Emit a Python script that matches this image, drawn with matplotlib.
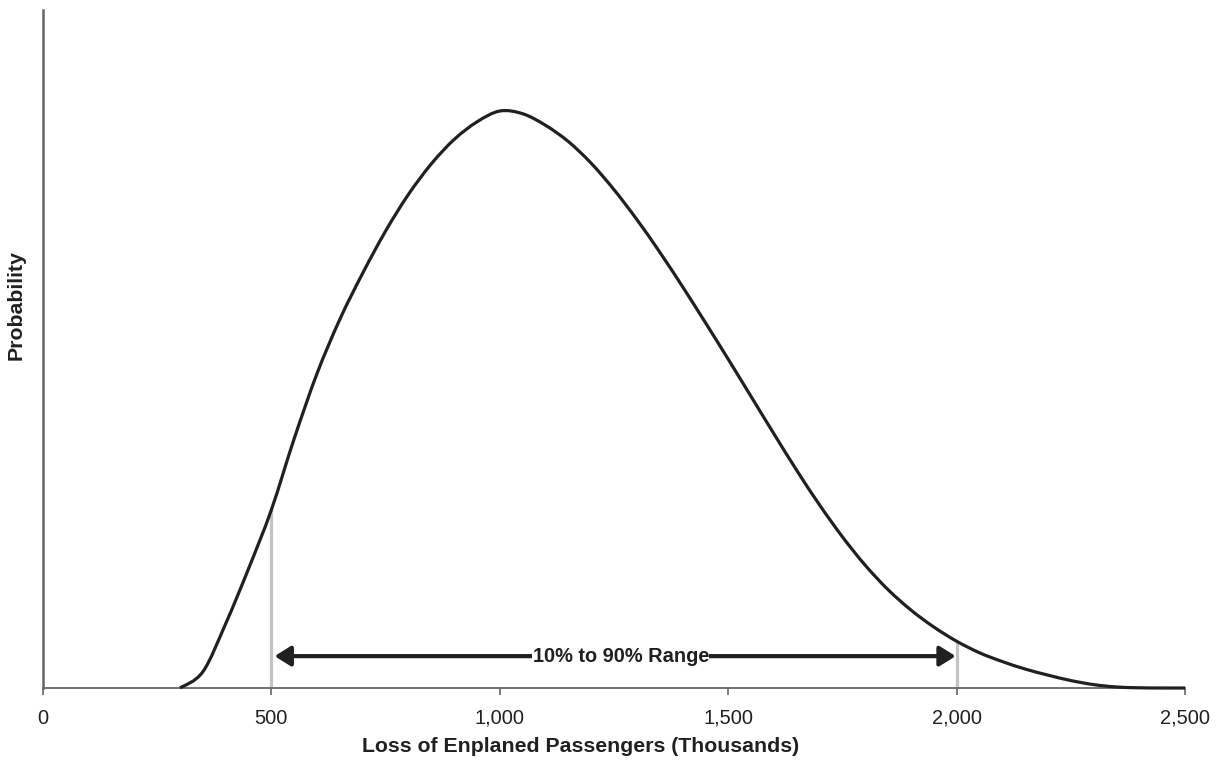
import matplotlib
matplotlib.use("Agg")
import matplotlib.pyplot as plt
import numpy as np
from matplotlib.path import Path
from matplotlib.patches import PathPatch

plt.rcParams['font.family'] = ['Liberation Sans', 'DejaVu Sans']

loss_thousands = [300, 350, 400, 450, 500, 550, 600, 650, 700, 750, 800, 850, 900, 950,
                  1000, 1050, 1100, 1150, 1200, 1250, 1300, 1350, 1400, 1450, 1500,
                  1550, 1600, 1650, 1700, 1750, 1800, 1850, 1900, 1950, 2000, 2050,
                  2100, 2150, 2200, 2250, 2300, 2350, 2400, 2450, 2500]
probability = [0, 2.4, 9.5, 17.6, 26.3, 36.8, 46.4, 54.4, 61.2, 67.4, 72.8, 77.3, 80.9, 83.5,
               85.1, 84.7, 83.0, 80.6, 77.4, 73.5, 69.1, 64.3, 59.2, 53.9, 48.5,
               43.0, 37.5, 32.1, 27.0, 22.3, 18.1, 14.5, 11.5, 9.0, 6.9, 5.2,
               3.9, 2.8, 1.9, 1.1, 0.5, 0.15, 0.03, 0, 0]

p10_x, p10_y = 500, 26.3
p90_x, p90_y = 2000, 6.7
range_label = "10% to 90% Range"
arrow_y = 4.7

x_ticks = [0, 500, 1000, 1500, 2000, 2500]
x_ticklabels = ["0", "500", "1,000", "1,500", "2,000", "2,500"]

fig = plt.figure(figsize=(12.2, 7.66), dpi=100)
ax = fig.add_axes([43/1220, 78/766, 1142/1220, 678/766])

pts = np.column_stack([loss_thousands, probability]).astype(float)
ext = np.vstack([pts[0], pts, pts[-1]])
verts = [tuple(pts[0])]
codes = [Path.MOVETO]
for i in range(1, len(ext) - 2):
    p0, p1, p2, p3 = ext[i - 1], ext[i], ext[i + 1], ext[i + 2]
    c1 = p1 + (p2 - p0) / 6.0
    c2 = p2 - (p3 - p1) / 6.0
    verts += [tuple(c1), tuple(c2), tuple(p2)]
    codes += [Path.CURVE4, Path.CURVE4, Path.CURVE4]
curve = PathPatch(Path(verts, codes), facecolor='none', edgecolor='#231f20',
                  lw=2.3, clip_on=False, zorder=3, capstyle='butt')
ax.add_patch(curve)

ax.plot([p10_x, p10_x], [0, p10_y], color='#c3c3c3', lw=2.3, zorder=2)
ax.plot([p90_x, p90_x], [0, p90_y], color='#c3c3c3', lw=2.3, zorder=2)

ax.annotate('', xy=(1998, arrow_y), xytext=(507, arrow_y),
            arrowprops=dict(arrowstyle='<|-|>,head_length=0.8,head_width=0.5',
                            lw=3.0, color='#231f20', shrinkA=0, shrinkB=0,
                            mutation_scale=12), zorder=4)
ax.text(1265, arrow_y, range_label, ha='center', va='center', fontsize=14.4,
        fontweight='bold', color='#231f20', zorder=5,
        bbox=dict(facecolor='white', edgecolor='none', pad=0.3))

ax.set_xlim(0, 2500)
ax.set_ylim(0, 100)
ax.set_xticks(x_ticks)
ax.set_xticklabels(x_ticklabels, fontsize=14.4, color='#231f20')
ax.set_yticks([])
ax.tick_params(axis='x', direction='out', length=5, width=1.2, color='#666666', pad=10)

for s in ['top', 'right']:
    ax.spines[s].set_visible(False)
ax.spines['left'].set_color('#666666')
ax.spines['left'].set_linewidth(1.8)
ax.spines['bottom'].set_color('#666666')
ax.spines['bottom'].set_linewidth(1.3)

ax.set_xlabel("Loss of Enplaned Passengers (Thousands)", fontsize=15.3,
              fontweight='bold', color='#231f20')
ax.xaxis.set_label_coords((581 - 43) / 1142, -(737 - 688) / 678)
ax.set_ylabel("Probability", fontsize=15.3, fontweight='bold', color='#231f20')
ax.yaxis.set_label_coords(-(43 - 26) / 1142, (688 - 305) / 678)

fig.savefig("out.png", dpi=100, facecolor='white')
